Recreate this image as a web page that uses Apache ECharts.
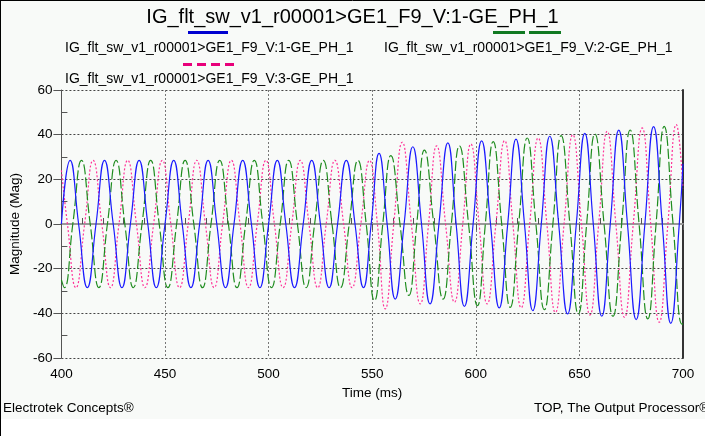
<!DOCTYPE html>
<html>
<head>
<meta charset="utf-8">
<script src="https://cdn.jsdelivr.net/npm/echarts@6/dist/echarts.min.js"></script>
<style>
html,body{margin:0;padding:0;background:#ffffff;}
#chart{width:705px;height:436px;}
</style>
</head>
<body>
<div id="chart"></div>
<script>
const titleText = 'IG_flt_sw_v1_r00001>GE1_F9_V:1-GE_PH_1';
const seriesNames = ['IG_flt_sw_v1_r00001>GE1_F9_V:1-GE_PH_1','IG_flt_sw_v1_r00001>GE1_F9_V:2-GE_PH_1','IG_flt_sw_v1_r00001>GE1_F9_V:3-GE_PH_1'];
const xTicks = [400,450,500,550,600,650,700];
const yTicks = [-60,-40,-20,0,20,40,60];

// [time ms, magnitude] read at peaks, troughs and zero crossings
const phase1 = [[400,0],[404.2,28.5],[408.3,0],[412.5,-28.5],[416.7,0],[420.8,28.5],[425,0],[429.2,-28.5],[433.3,0],[437.5,28.5],[441.7,0],[445.8,-28.5],[450,0],[454.2,28.5],[458.3,0],[462.5,-28.5],[466.7,0],[470.8,28.5],[475,0],[479.2,-28.5],[483.3,0],[487.5,28.5],[491.7,0],[495.8,-28.5],[500,0],[504.2,28.5],[508.3,0],[512.5,-28.5],[516.7,0],[520.8,28.5],[525,0],[529.2,-28.5],[533.3,0],[537.5,28.5],[541.7,0],[545.8,-28.5],[549.5,0],[553.3,31.6],[557.2,0],[561.1,-33.6],[565.4,0],[569.6,34.6],[573.8,0],[577.9,-35.8],[582.2,0],[586.5,36.3],[590.5,0],[594.5,-36.9],[598.7,0],[602.8,37.2],[607.1,0],[611.3,-37.6],[615.4,0],[619.4,38],[623.5,0],[627.5,-38.8],[631.6,0],[635.7,39.3],[640,0],[644.3,-40.3],[648.5,0],[652.6,40.6],[656.7,0],[660.8,-41.3],[664.9,0],[669,42],[673.2,0],[677.4,-42.8],[681.6,0],[685.8,43.6],[690,0],[694.1,-44.5],[698.2,0],[700,27]];
const phase2 = [[400,-25],[401.4,-28.5],[405.5,0],[409.7,28.5],[413.9,0],[418.1,-28.5],[422.2,0],[426.4,28.5],[430.6,0],[434.7,-28.5],[438.9,0],[443.1,28.5],[447.2,0],[451.4,-28.5],[455.6,0],[459.7,28.5],[463.9,0],[468.1,-28.5],[472.2,0],[476.4,28.5],[480.6,0],[484.7,-28.5],[488.9,0],[493.1,28.5],[497.2,0],[501.4,-28.5],[505.6,0],[509.7,28.5],[513.9,0],[518.1,-28.5],[522.2,0],[526.4,28.5],[530.6,0],[534.7,-28.5],[538.9,0],[543.1,28.5],[547.1,0],[551.1,-34.3],[555.1,0],[559,30.6],[563.4,0],[567.7,-32],[571.5,0],[575.2,33.1],[579.7,0],[584.2,-33.6],[588.2,0],[592.1,35],[596.5,0],[600.8,-36.6],[604.6,0],[608.4,36.9],[612.5,0],[616.6,-37.3],[620.7,0],[624.8,38.5],[629,0],[633.1,-38.4],[637.2,0],[641.2,39.6],[645.4,0],[649.5,-40.3],[653.5,0],[657.5,40.3],[661.9,0],[666.2,-41.3],[670.4,0],[674.5,42.1],[678.8,0],[683,-42.5],[687,0],[690.9,43.7],[695.2,0],[699.5,-44.8],[700,-44.6]];
const phase3 = [[400,24],[402.9,0],[407,-28.5],[411.2,0],[415.3,28.5],[419.5,0],[423.7,-28.5],[427.8,0],[432,28.5],[436.2,0],[440.3,-28.5],[444.5,0],[448.7,28.5],[452.8,0],[457,-28.5],[461.2,0],[465.3,28.5],[469.5,0],[473.7,-28.5],[477.8,0],[482,28.5],[486.2,0],[490.3,-28.5],[494.5,0],[498.7,28.5],[502.8,0],[507,-28.5],[511.2,0],[515.3,28.5],[519.5,0],[523.7,-28.5],[527.8,0],[532,28.5],[536.2,0],[540.3,-28.5],[544.5,0],[548.7,28.4],[552.5,0],[556.3,-38],[560.4,0],[564.5,36.6],[568.9,0],[573.2,-35.8],[577.2,0],[581.1,35],[585.4,0],[589.7,-35],[593.7,0],[597.6,35.8],[601.6,0],[605.5,-35.8],[609.7,0],[613.9,37.3],[617.9,0],[621.9,-37.5],[626,0],[630.1,38.5],[634.3,0],[638.4,-39.6],[642.6,0],[646.8,40],[651,0],[655.1,-40.7],[659.3,0],[663.4,41.5],[667.6,0],[671.8,-41.8],[676,0],[680.3,43],[684.4,0],[688.5,-44],[692.7,0],[696.8,44.5],[700,16]];

const FONT = '"Liberation Sans", Arial, sans-serif';
const chart = echarts.init(document.getElementById('chart'), null, {renderer:'canvas'});

const option = {
  backgroundColor: '#ffffff',
  animation: false,
  title: {
    text: titleText, left: 'center', top: 2,
    textStyle: {fontFamily: FONT, fontSize: 20, fontWeight: 'normal', color: '#000'}
  },
  grid: {left: 49, right: 22, top: 90, bottom: 78, containLabel: false},
  xAxis: [{
    type: 'value', min: xTicks[0], max: xTicks[xTicks.length-1], interval: 50, position: 'bottom',
    name: 'Time (ms)', nameLocation: 'middle', nameGap: 27,
    nameTextStyle: {fontFamily: FONT, fontSize: 13.5, color: '#000'},
    axisLine: {show: true, lineStyle: {color: '#777', width: 1}},
    axisTick: {show: true, inside: false, length: 6, lineStyle: {color: '#555'}},
    minorTick: {show: true, splitNumber: 5, length: -6, lineStyle: {color: '#555'}},
    axisLabel: {fontFamily: FONT, fontSize: 13.5, color: '#000', margin: 9},
    splitLine: {show: true, lineStyle: {color: '#777', type: [2,2], width: 1}}
  },{
    type: 'value', min: 400, max: 700, position: 'top',
    axisLine: {show: true, lineStyle: {color: '#999', width: 2}},
    axisTick: {show: false}, axisLabel: {show: false}, splitLine: {show: false}
  }],
  yAxis: [{
    type: 'value', min: yTicks[0], max: yTicks[yTicks.length-1], interval: 20, position: 'left',
    name: 'Magnitude (Mag)', nameLocation: 'middle', nameGap: 34, nameRotate: 90,
    nameTextStyle: {fontFamily: FONT, fontSize: 13.5, color: '#000'},
    axisLine: {show: true, lineStyle: {color: '#555', width: 1}},
    axisTick: {show: true, inside: false, length: 8, lineStyle: {color: '#555'}},
    minorTick: {show: true, splitNumber: 2, length: -6, lineStyle: {color: '#555'}},
    axisLabel: {fontFamily: FONT, fontSize: 13.5, color: '#000', margin: 9},
    splitLine: {show: true, lineStyle: {color: '#444', type: [2,2], width: 1}}
  },{
    type: 'value', min: -60, max: 60, position: 'right',
    axisLine: {show: true, lineStyle: {color: '#333', width: 2}},
    axisTick: {show: false}, axisLabel: {show: false}, splitLine: {show: false}
  }],
  series: [
    {name: seriesNames[0], type: 'line', data: phase1, smooth: 0.5, showSymbol: false, xAxisIndex: 0, yAxisIndex: 0,
     lineStyle: {color: '#1a1aff', width: 1.2, type: 'solid'}, z: 5},
    {name: seriesNames[1], type: 'line', data: phase2, smooth: 0.5, showSymbol: false, xAxisIndex: 0, yAxisIndex: 0,
     lineStyle: {color: '#1e8c1e', width: 1.2, type: [10,3]}, z: 4},
    {name: seriesNames[2], type: 'line', data: phase3, smooth: 0.5, showSymbol: false, xAxisIndex: 0, yAxisIndex: 0,
     lineStyle: {color: '#ff3399', width: 1.2, type: [2,2]}, z: 3}
  ],
  graphic: [
    {type: 'rect', z: -10, silent: true, shape: {x: 0, y: 0, width: 705, height: 419}, style: {fill: '#f8faf8'}},
    {type: 'line', z: 10, silent: true, shape: {x1: 0.5, y1: 0, x2: 0.5, y2: 436}, style: {stroke: '#000', lineWidth: 1}},
    {type: 'line', z: 10, silent: true, shape: {x1: 0, y1: 0.5, x2: 705, y2: 0.5}, style: {stroke: '#000', lineWidth: 1}},
    // legend swatches
    {type: 'rect', silent: true, shape: {x: 188, y: 31, width: 40, height: 3}, style: {fill: '#0000d0'}},
    {type: 'rect', silent: true, shape: {x: 493, y: 31, width: 32, height: 3}, style: {fill: '#117a22'}},
    {type: 'rect', silent: true, shape: {x: 529, y: 31, width: 32, height: 3}, style: {fill: '#117a22'}},
    {type: 'rect', silent: true, shape: {x: 183, y: 63, width: 9, height: 3}, style: {fill: '#e8007a'}},
    {type: 'rect', silent: true, shape: {x: 197, y: 63, width: 9, height: 3}, style: {fill: '#e8007a'}},
    {type: 'rect', silent: true, shape: {x: 211, y: 63, width: 9, height: 3}, style: {fill: '#e8007a'}},
    {type: 'rect', silent: true, shape: {x: 225, y: 63, width: 9, height: 3}, style: {fill: '#e8007a'}},
    {type: 'text', silent: true, x: 65, y: 48, style: {text: seriesNames[0], fontFamily: FONT, fontSize: 14, fill: '#000', textVerticalAlign: 'middle'}},
    {type: 'text', silent: true, x: 384, y: 48, style: {text: seriesNames[1], fontFamily: FONT, fontSize: 14, fill: '#000', textVerticalAlign: 'middle'}},
    {type: 'text', silent: true, x: 65, y: 79, style: {text: seriesNames[2], fontFamily: FONT, fontSize: 14, fill: '#000', textVerticalAlign: 'middle'}},
    // footer
    {type: 'text', silent: true, x: 3, y: 408, style: {text: 'Electrotek Concepts®', fontFamily: FONT, fontSize: 13.5, fill: '#000', textVerticalAlign: 'middle'}},
    {type: 'text', silent: true, x: 534, y: 408, style: {text: 'TOP, The Output Processor®', fontFamily: FONT, fontSize: 13.5, fill: '#000', textAlign: 'left', textVerticalAlign: 'middle'}}
  ]
};
chart.setOption(option);
</script>
</body>
</html>
